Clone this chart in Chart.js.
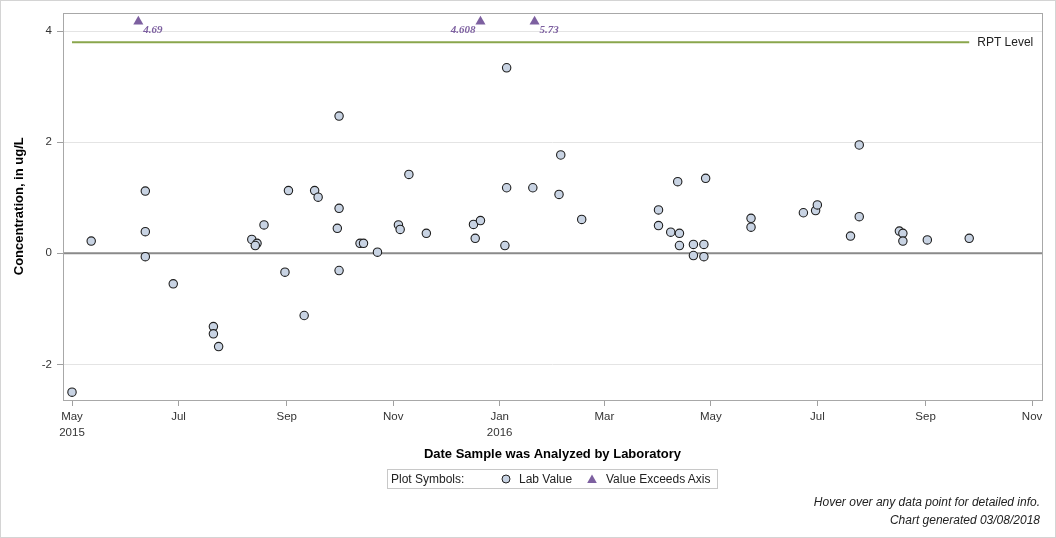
<!DOCTYPE html>
<html>
<head>
<meta charset="utf-8">
<title>Lab values</title>
<script src="https://cdn.jsdelivr.net/npm/chart.js@4"></script>
<style>
body{margin:0;background:#fff;font-family:"Liberation Sans",Arial,sans-serif;}
#wrap{position:relative;width:1056px;height:538px;overflow:hidden;}
#chartBox{position:absolute;left:0;top:0;width:1056px;height:538px;}
#frame{position:absolute;left:0;top:0;width:1056px;height:538px;border:1px solid #d4d4d4;box-sizing:border-box;pointer-events:none;}
#legend{position:absolute;left:387px;top:469px;width:331px;height:20px;border:1px solid #c8c8c8;box-sizing:border-box;font-size:12px;color:#222;}
#legend span{position:absolute;top:0;line-height:18px;white-space:nowrap;}
#legend svg{position:absolute;top:4px;}
.foot{position:absolute;right:16px;font-size:12px;line-height:14px;font-style:italic;color:#222;white-space:nowrap;}
</style>
</head>
<body>
<div id="wrap">
  <div id="chartBox"><canvas id="chart"></canvas></div>
  <div id="legend">
    <span style="left:3px">Plot Symbols:</span>
    <svg style="left:113px" width="10" height="10"><circle cx="5" cy="5" r="4" fill="#c8d3e3" stroke="#222" stroke-width="1"/></svg>
    <span style="left:131px">Lab Value</span>
    <svg style="left:199px" width="10" height="10"><polygon points="5,0.5 9.8,9 0.2,9" fill="#7d60a0"/></svg>
    <span style="left:218px">Value Exceeds Axis</span>
  </div>
  <div class="foot" style="top:495px">Hover over any data point for detailed info.</div>
  <div class="foot" style="top:513px">Chart generated 03/08/2018</div>
  <div id="frame"></div>
</div>
<script>
// --- data ---
const labDates = ['2015-05-01','2015-05-12','2015-06-12','2015-06-12','2015-06-12','2015-06-28',
  '2015-07-21','2015-07-21','2015-07-24','2015-08-12','2015-08-15','2015-08-14','2015-08-19',
  '2015-08-31','2015-09-02','2015-09-11','2015-09-17','2015-09-19','2015-09-30','2015-10-01',
  '2015-10-01','2015-10-01','2015-10-13','2015-10-15','2015-10-23','2015-11-04','2015-11-05',
  '2015-11-10','2015-11-20','2015-12-17','2015-12-18','2015-12-21','2016-01-04','2016-01-05',
  '2016-01-05','2016-01-20','2016-02-04','2016-02-05','2016-02-17','2016-04-01','2016-04-01',
  '2016-04-08','2016-04-12','2016-04-13','2016-04-13','2016-04-21','2016-04-21','2016-04-27',
  '2016-04-27','2016-04-28','2016-05-24','2016-05-24','2016-06-23','2016-06-30','2016-07-01',
  '2016-07-20','2016-07-25','2016-07-25','2016-08-17','2016-08-19','2016-08-19','2016-09-02',
  '2016-09-26'];
const labValues = [-2.50,0.22,1.12,0.39,-0.06,-0.55,
  -1.32,-1.45,-1.68,0.25,0.18,0.14,0.51,
  -0.34,1.13,-1.12,1.13,1.01,0.45,2.47,
  0.81,-0.31,0.18,0.18,0.02,0.51,0.43,
  1.42,0.36,0.52,0.27,0.59,0.14,3.34,
  1.18,1.18,1.06,1.77,0.61,0.78,0.50,
  0.38,1.29,0.36,0.14,0.16,-0.04,0.16,
  -0.06,1.35,0.63,0.47,0.73,0.77,0.87,
  0.31,1.95,0.66,0.40,0.36,0.22,0.24,
  0.27];

// values above the axis top: drawn as triangles at the cap, labelled with the real value
const exceedDates = ['2015-06-08','2015-12-21','2016-01-21'];
const exceedValues = [4.69, 4.608, 5.73];
const exceedLabelSide = ['right','left','right'];
const axisCap = 4.17;

const rptLevel = 3.8;

const tickDates = ['2015-05-01','2015-07-01','2015-09-01','2015-11-01','2016-01-01',
  '2016-03-01','2016-05-01','2016-07-01','2016-09-01','2016-11-01'];
const tickMonths = ['May','Jul','Sep','Nov','Jan','Mar','May','Jul','Sep','Nov'];
const tickYears = ['2015','','','','2016','','','','',''];
const yTicks = [-2, 0, 2, 4];

// --- helpers ---
const DAY = 86400000;
const origin = Date.UTC(2015, 4, 1);
function dayNum(s){ return (new Date(s + 'T00:00:00Z').getTime() - origin) / DAY; }

const SANS = '"Liberation Sans", Arial, sans-serif';
const PURPLE = '#7d60a0';

const labPoints = labDates.map((d,i) => ({x: dayNum(d), y: labValues[i]}));
const exceedPoints = exceedDates.map((d,i) => ({x: dayNum(d), y: Math.min(exceedValues[i], axisCap)}));
const rptPoints = [
  {x: dayNum(labDates[0]), y: rptLevel},
  {x: dayNum(labDates[labDates.length-1]), y: rptLevel}
];

// zero line, value labels, RPT label, plot frame
const extras = {
  id: 'extras',
  beforeDatasetsDraw(chart){
    const {ctx, chartArea: a, scales} = chart;
    const y0 = scales.y.getPixelForValue(0);
    ctx.save();
    ctx.strokeStyle = '#8a8a8a';
    ctx.lineWidth = 2;
    ctx.beginPath(); ctx.moveTo(a.left, y0); ctx.lineTo(a.right, y0); ctx.stroke();
    ctx.restore();
  },
  afterDatasetsDraw(chart){
    const {ctx, chartArea: a} = chart;
    ctx.save();
    // exceed labels
    const em = chart.getDatasetMeta(2);
    ctx.font = 'italic bold 11px "Liberation Serif", "Times New Roman", serif';
    ctx.fillStyle = PURPLE;
    ctx.textBaseline = 'middle';
    em.data.forEach((p, i) => {
      if (exceedLabelSide[i] === 'left'){ ctx.textAlign = 'right'; ctx.fillText(String(exceedValues[i]), p.x - 5, p.y + 8); }
      else { ctx.textAlign = 'left'; ctx.fillText(String(exceedValues[i]), p.x + 5, p.y + 8); }
    });
    // RPT label
    const rm = chart.getDatasetMeta(0);
    const last = rm.data[rm.data.length-1];
    ctx.font = '12px ' + SANS;
    ctx.fillStyle = '#222';
    ctx.textAlign = 'left';
    ctx.fillText('RPT Level', last.x + 8, last.y);
    // frame
    ctx.strokeStyle = '#a8a8a8';
    ctx.lineWidth = 1;
    ctx.strokeRect(Math.round(a.left) + 0.5, Math.round(a.top) + 0.5, Math.round(a.right - a.left), Math.round(a.bottom - a.top) - 1);
    ctx.restore();
  }
};

new Chart(document.getElementById('chart'), {
  type: 'scatter',
  data: {
    datasets: [
      {
        type: 'line', label: 'RPT Level', data: rptPoints,
        borderColor: '#8aa64c', borderWidth: 2, pointRadius: 0, fill: false, order: 3
      },
      {
        label: 'Lab Value', data: labPoints,
        pointStyle: 'circle', pointRadius: 4.2, borderWidth: 1.1,
        backgroundColor: '#c8d3e3', borderColor: '#1e1e1e', order: 2
      },
      {
        label: 'Value Exceeds Axis', data: exceedPoints,
        pointStyle: 'triangle', pointRadius: 5.8, borderWidth: 0,
        backgroundColor: PURPLE, borderColor: PURPLE, order: 1
      }
    ]
  },
  options: {
    responsive: true,
    maintainAspectRatio: false,
    animation: false,
    layout: { padding: { top: 12.5, right: 14, left: 0, bottom: 72 } },
    plugins: { legend: { display: false }, tooltip: { enabled: false } },
    scales: {
      x: {
        type: 'linear',
        min: -5.16, max: 555.7,
        afterBuildTicks: s => { s.ticks = tickDates.map(d => ({value: dayNum(d)})); },
        afterFit: s => { s.height = 66; },
        ticks: {
          autoSkip: false, maxRotation: 0, padding: 2,
          color: '#333', font: { family: SANS, size: 11.5, lineHeight: 1.45 },
          callback: (v, i) => tickYears[i] ? [tickMonths[i], tickYears[i]] : tickMonths[i]
        },
        grid: { drawOnChartArea: false, tickLength: 6, tickColor: '#a0a0a0' },
        border: { display: false },
        title: {
          display: true, text: 'Date Sample was Analyzed by Laboratory', color: '#000',
          font: { family: SANS, size: 13, weight: 'bold', lineHeight: 1.2 },
          padding: { top: 0, bottom: 4 }
        }
      },
      y: {
        min: -2.641, max: 4.335,
        afterBuildTicks: s => { s.ticks = yTicks.map(v => ({value: v})); },
        afterFit: s => { s.width = 63; },
        ticks: { padding: 5, color: '#333', font: { family: SANS, size: 11.5 } },
        grid: { color: '#e4e4e4', tickLength: 6, tickColor: '#a0a0a0' },
        border: { display: false },
        title: {
          display: true, text: 'Concentration, in ug/L', color: '#000',
          font: { family: SANS, size: 13, weight: 'bold', lineHeight: 1.2 },
          padding: { top: 12, bottom: 0 }
        }
      }
    }
  },
  plugins: [extras]
});
</script>
</body>
</html>
